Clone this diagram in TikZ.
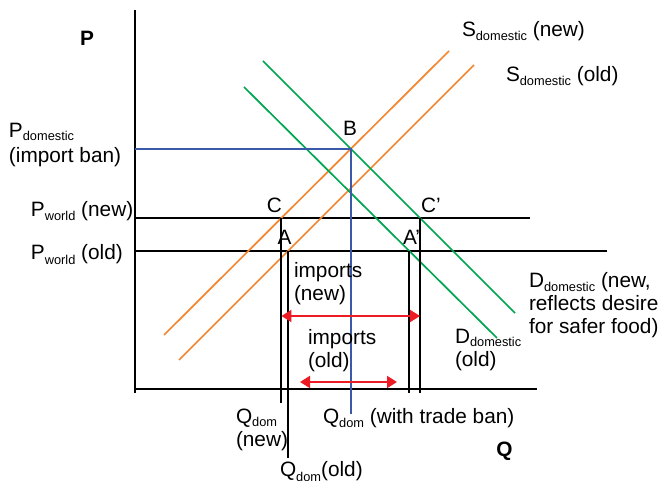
\documentclass[tikz,border=0pt]{standalone}
\usepackage{fontspec}
\setmainfont{Liberation Sans}
\usetikzlibrary{arrows.meta}

\definecolor{orangeS}{RGB}{243,134,48}
\definecolor{greenD}{RGB}{0,166,81}
\definecolor{blueB}{RGB}{59,89,170}
\definecolor{redI}{RGB}{237,28,36}

\newcommand{\dsub}[1]{\raisebox{-2pt}{\fontsize{6.4}{7}\selectfont#1}}
\setlength{\lineskiplimit}{-20pt}

\begin{document}
\begin{tikzpicture}[x=0.5pt,y=-0.5pt,line width=1pt,>=Stealth,
  font=\fontsize{10.4}{11.5}\selectfont,
  lbl/.style={inner sep=0pt,align=left,anchor=base west},
  ptlbl/.style={inner sep=0pt,anchor=base},
  axislbl/.style={inner sep=0pt,font=\fontsize{10.4}{11.5}\selectfont\bfseries},
  supply/.style={orangeS,line width=0.85pt},
  demand/.style={greenD,line width=0.85pt},
  guide/.style={blueB,line width=1pt},
  imports/.style={redI,line width=1pt,{Triangle[length=5pt,width=6pt]}-{Triangle[length=5pt,width=6pt]}}]
\useasboundingbox (0,0) rectangle (660,481);
% ---------- axes ----------
\coordinate (ytop) at (135,10);
\coordinate (ybot) at (135,393);
\coordinate (xright) at (537,389);
\draw (ytop) -- (ybot);
\draw (ytop |- xright) -- (xright);
% ---------- world prices ----------
\coordinate (pnew0) at (135,218); \coordinate (pnew1) at (530,218);
\coordinate (pold0) at (135,251); \coordinate (pold1) at (607,251);
\draw (pnew0) -- (pnew1);
\draw (pold0) -- (pold1);
% ---------- supply (orange) and demand (green) ----------
\coordinate (snew0) at (164,335); \coordinate (snew1) at (449,51);
\coordinate (sold0) at (179,360); \coordinate (sold1) at (474,65);
\coordinate (dnew0) at (263,61);  \coordinate (dnew1) at (515,313);
\coordinate (dold0) at (244,87);  \coordinate (dold1) at (497,338);
\draw[supply] (snew0) -- (snew1);
\draw[supply] (sold0) -- (sold1);
\draw[demand] (dnew0) -- (dnew1);
\draw[demand] (dold0) -- (dold1);
% ---------- equilibrium points ----------
\coordinate (B)  at (intersection of snew0--snew1 and dnew0--dnew1);
\coordinate (C)  at (intersection of snew0--snew1 and pnew0--pnew1);
\coordinate (A)  at (intersection of sold0--sold1 and pold0--pold1);
\coordinate (Cp) at (intersection of dnew0--dnew1 and pnew0--pnew1);
\coordinate (Ap) at (intersection of dold0--dold1 and pold0--pold1);
% ---------- import ban price / quantity ----------
\coordinate (qban) at (0,414);
\draw[guide] (ytop |- B) -- (B) -- (B |- qban);
% ---------- quantity drop lines ----------
\coordinate (qnewend) at (0,403);
\coordinate (qoldend) at (0,458);
\coordinate (tickend) at (0,393);
\draw (C) -- (C |- qnewend);
\draw (A) -- (A |- qoldend);
\draw (Ap) -- (Ap |- tickend);
\draw (Cp) -- (Cp |- tickend);
% ---------- imports ----------
\coordinate (impnew) at (0,316);
\coordinate (impold0) at (300,382); \coordinate (impold1) at (397,382);
\draw[imports] (C |- impnew) -- (Cp |- impnew);
\draw[imports] (impold0) -- (impold1);
% ---------- labels (base = last line) ----------
\node[axislbl] (plbl) at (87,38) {P};
\node[axislbl] (qlbl) at (504.5,451.5) {Q};
\node[lbl] (pdomlbl) at (8,163) {P\dsub{domestic}\\[1.5pt](import ban)};
\node[lbl] (pwnewlbl) at (30,217) {P\dsub{world} (new)};
\node[lbl] (pwoldlbl) at (30,260) {P\dsub{world} (old)};
\node[ptlbl] (Blbl) at (350,136) {B};
\node[ptlbl] (Clbl) at (274.5,213) {C};
\node[lbl] (Cplbl) at (420,213) {C’};
\node[ptlbl] (Albl) at (284.5,245) {A};
\node[lbl] (Aplbl) at (402,245) {A’};
\node[lbl] (impnewlbl) at (293,300) {imports\\(new)};
\node[lbl] (impoldlbl) at (307,368) {imports\\(old)};
\node[lbl] (snewlbl) at (461,37) {S\dsub{domestic} (new)};
\node[lbl] (soldlbl) at (505,82) {S\dsub{domestic} (old)};
\node[lbl] (dnewlbl) at (528,334) {D\dsub{domestic} (new,\\reflects desire\\for safer food)};
\node[lbl] (doldlbl) at (454,366) {D\dsub{domestic}\\(old)};
\node[lbl] (qnewlbl) at (235,446) {Q\dsub{dom}\\(new)};
\node[lbl] (qbanlbl) at (322,423) {Q\dsub{dom} (with trade ban)};
\node[lbl] (qoldlbl) at (279,477) {Q\dsub{dom}(old)};
\end{tikzpicture}
\end{document}
